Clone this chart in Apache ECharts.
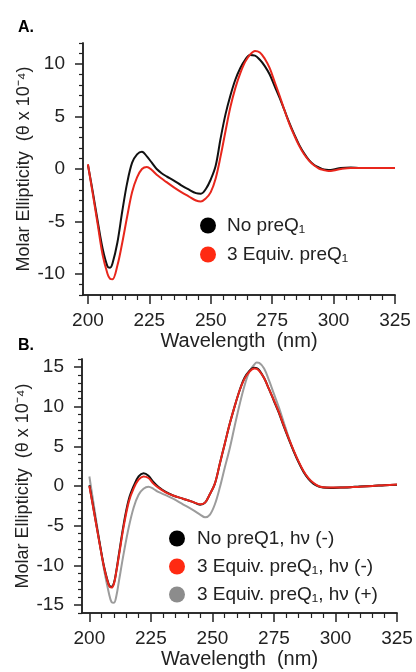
<!DOCTYPE html>
<html>
<head>
<meta charset="utf-8">
<script src="https://cdn.jsdelivr.net/npm/echarts@6/dist/echarts.min.js"></script>
<style>
  html, body { margin: 0; padding: 0; background: #fff; }
  #main { width: 416px; height: 672px; }
</style>
</head>
<body>
<div id="main"></div>
<script>
// panel A: CD spectra with and without preQ1
var nmA = [200,202,204,206,208,209,210,212,214,216,218,220,222,224,226,228,230,232,235,238,241,244,246,248,250,252,254,256,258,260,262,264,266,268,270,272,274,276,278,280,282,284,286,288,290,292,294,296,298,300,303,307,311,315,320,325]
var noPreQ1A = [0.4,-2.2,-5.0,-7.6,-9.3,-9.4,-9.0,-7.0,-4.0,-1.3,0.6,1.4,1.65,1.2,0.6,0.0,-0.4,-0.7,-1.1,-1.55,-1.95,-2.3,-2.35,-1.9,-1.0,0.3,2.9,5.2,7.0,8.5,9.6,10.4,10.85,10.8,10.4,9.8,9.0,7.9,6.8,5.6,4.4,3.3,2.3,1.5,0.85,0.4,0.15,-0.05,-0.1,-0.05,0.1,0.15,0.1,0.1,0.1,0.1]
var equiv3A = [0.45,-2.4,-5.3,-8.2,-10.0,-10.45,-10.5,-9.2,-7.0,-4.5,-2.2,-0.8,0.0,0.2,-0.1,-0.55,-0.9,-1.25,-1.75,-2.2,-2.6,-3.0,-3.1,-2.8,-2.2,-0.9,1.2,3.6,5.9,7.7,9.1,10.2,10.9,11.25,11.1,10.5,9.6,8.3,7.0,5.6,4.3,3.2,2.2,1.4,0.8,0.35,0.05,-0.1,-0.2,-0.15,0.0,0.1,0.1,0.1,0.1,0.1]

// panel B: with / without irradiation
var nmB = [200,202,204,206,208,209,210,211,212,214,216,218,220,222,224,226,228,231,234,238,242,245,247,249,251,253,255,257,259,261,263,265,267,268,269,271,273,275,277,279,281,283,285,287,289,291,293,295,298,302,306,310,315,320,325]
var noPreQ1B = [0.1,-3.4,-6.9,-10.2,-12.5,-12.7,-12.2,-10.6,-8.6,-4.7,-1.7,0.0,1.2,1.6,1.3,0.5,-0.1,-0.75,-1.2,-1.6,-2.0,-2.35,-2.1,-1.0,0.3,2.8,5.3,7.8,10.0,12.0,13.6,14.5,14.9,14.85,14.6,13.6,12.2,10.7,9.2,7.5,5.9,4.4,3.0,1.8,0.9,0.3,-0.05,-0.2,-0.25,-0.2,-0.15,-0.05,0.0,0.1,0.15]
var equiv3B = [0.0,-3.5,-7.0,-10.3,-12.6,-12.8,-12.3,-10.7,-8.8,-5.0,-2.0,-0.3,0.8,1.2,1.0,0.3,-0.2,-0.8,-1.2,-1.6,-2.0,-2.3,-2.1,-1.0,0.3,2.8,5.3,7.8,10.0,12.0,13.5,14.4,14.8,14.75,14.5,13.6,12.2,10.8,9.3,7.6,6.0,4.5,3.1,1.9,1.0,0.4,0.0,-0.15,-0.2,-0.2,-0.15,-0.1,0.0,0.1,0.2]
var equiv3HvB = [1.2,-2.8,-6.8,-10.6,-13.6,-14.6,-14.7,-13.8,-12.0,-8.4,-5.2,-2.7,-1.1,-0.35,-0.1,-0.35,-0.75,-1.15,-1.6,-2.3,-3.0,-3.6,-3.95,-3.6,-2.3,-0.2,2.3,4.7,7.5,10.2,12.6,14.4,15.3,15.55,15.5,14.8,13.3,11.6,9.9,8.0,6.1,4.4,3.0,1.8,0.95,0.35,0.0,-0.15,-0.2,-0.2,-0.15,-0.05,0.0,0.1,0.15]

var xMajor = [200,225,250,275,300,325]
var xMinor = [205,210,215,220,230,235,240,245,255,260,265,270,280,285,290,295,305,310,315,320]
var yMajorA = [-10,-5,0,5,10]
var yMajorB = [-15,-10,-5,0,5,10,15]

var FONT = 'Liberation Sans, Arial, sans-serif'
var INK = '#222'

function pairs(xs, ys){
  return xs.map(function(x, i){ return [x, ys[i]] })
}
function range(a, b, skip){
  var out = []
  for (var v = a; v <= b; v++) if (skip.indexOf(v) < 0) out.push(v)
  return out
}

// main axes (with labels, long ticks) live in one grid,
// minor ticks in a second grid laid exactly on top of it
function xAxis(grid, min, minor){
  var ax = {
    gridIndex: grid, type: 'value', min: min, max: 325, position: 'bottom',
    axisLine: { show: true, onZero: false, lineStyle: { color: INK, width: 1.5 } },
    axisTick: { show: true, customValues: minor ? xMinor : xMajor, length: minor ? 5 : 9, lineStyle: { color: INK, width: minor ? 1.2 : 1.5 } },
    axisLabel: { show: !minor, customValues: xMajor, margin: 16, fontSize: 19, color: INK, fontFamily: FONT },
    splitLine: { show: false }
  }
  if (!minor) {
    ax.name = 'Wavelength  (nm)'
    ax.nameLocation = 'middle'
    ax.nameGap = 36
    ax.nameMoveOverlap = false
    ax.nameTextStyle = { fontSize: 20, color: INK, fontFamily: FONT }
  }
  return ax
}

function yAxis(grid, lim, major, minor){
  var ax = {
    gridIndex: grid, type: 'value', min: -lim, max: lim, position: 'left',
    axisLine: { show: true, onZero: false, lineStyle: { color: INK, width: 1.5 } },
    axisTick: { show: true, customValues: minor ? range(-lim, lim, major) : major, length: minor ? 4 : 8, lineStyle: { color: INK, width: minor ? 1.2 : 1.5 } },
    axisLabel: { show: !minor, customValues: major, margin: 18, fontSize: 19, color: INK, fontFamily: FONT },
    splitLine: { show: false }
  }
  if (!minor) {
    ax.name = 'Molar Ellipticity  (θ x 10⁻⁴)'
    ax.nameLocation = 'middle'
    ax.nameGap = 50
    ax.nameMoveOverlap = false
    ax.nameTextStyle = { fontSize: 18, color: INK, fontFamily: FONT }
  }
  return ax
}

function line(name, x, y, color, gi){
  return {
    name: name, type: 'line', xAxisIndex: gi, yAxisIndex: gi,
    data: pairs(x, y), showSymbol: false, smooth: 0.35,
    lineStyle: { color: color, width: 2 }, itemStyle: { color: color },
    animation: false
  }
}

var gridA = { left: 83, top: 43, width: 312, height: 252 }
var gridB = { left: 82, top: 359, width: 315, height: 254 }

var chart = echarts.init(document.getElementById('main'))
chart.setOption({
  backgroundColor: '#fff',
  title: [
    { text: 'A.', left: 13, top: 15, textStyle: { fontSize: 16, fontWeight: 'bold', color: '#000', fontFamily: FONT } },
    { text: 'B.', left: 13, top: 333, textStyle: { fontSize: 16, fontWeight: 'bold', color: '#000', fontFamily: FONT } }
  ],
  grid: [gridA, gridA, gridB, gridB],
  xAxis: [xAxis(0, 198, false), xAxis(1, 198, true), xAxis(2, 197, false), xAxis(3, 197, true)],
  yAxis: [yAxis(0, 12, yMajorA, false), yAxis(1, 12, yMajorA, true), yAxis(2, 16, yMajorB, false), yAxis(3, 16, yMajorB, true)],
  legend: [{
    data: [
      { name: 'No preQ₁', itemStyle: { color: '#000' } },
      { name: '3 Equiv. preQ₁', itemStyle: { color: '#ff2a12' } }
    ],
    orient: 'vertical', left: 195, top: 211, icon: 'circle',
    itemWidth: 16, itemHeight: 16, itemGap: 10,
    textStyle: { fontSize: 19, color: INK, fontFamily: FONT, padding: [0, 0, 0, 6] }
  }, {
    data: [
      { name: 'No preQ1, hν (-)', itemStyle: { color: '#000' } },
      { name: '3 Equiv. preQ₁, hν (-)', itemStyle: { color: '#ff2a12' } },
      { name: '3 Equiv. preQ₁, hν (+)', itemStyle: { color: '#8c8c8c' } }
    ],
    orient: 'vertical', left: 164, top: 524, icon: 'circle',
    itemWidth: 16, itemHeight: 16, itemGap: 9,
    textStyle: { fontSize: 19, color: INK, fontFamily: FONT, padding: [0, 0, 0, 7] }
  }],
  series: [
    line('No preQ₁', nmA, noPreQ1A, '#111', 0),
    line('3 Equiv. preQ₁', nmA, equiv3A, '#e8261c', 0),
    line('3 Equiv. preQ₁, hν (+)', nmB, equiv3HvB, '#9c9c9c', 2),
    line('No preQ1, hν (-)', nmB, noPreQ1B, '#111', 2),
    line('3 Equiv. preQ₁, hν (-)', nmB, equiv3B, '#e8261c', 2)
  ]
})
</script>
</body>
</html>
